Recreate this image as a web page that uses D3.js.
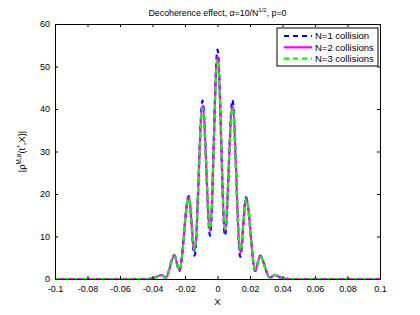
<!DOCTYPE html>
<html>
<head>
<meta charset="utf-8">
<script src="https://cdn.jsdelivr.net/npm/d3@7"></script>
<style>
  body { margin: 0; background: #fff; }
  svg { display: block; font-family: "Liberation Sans", Arial, sans-serif; }
</style>
</head>
<body>
<div id="chart"></div>
<script>
const width = 420;
const height = 315;

// x positions of the sampled extrema (shared by all series)
const xs = [-0.1, -0.044, -0.0395, -0.0345, -0.0318, -0.0266, -0.0235, -0.0177, -0.0141, -0.0092, -0.0046, 0,
  0.0046, 0.0092, 0.0140, 0.0176, 0.0232, 0.0262, 0.0322, 0.0354, 0.0395, 0.044, 0.1];

const n1 = [0, 0, 0.2, 0.9, 0.3, 5.6, 1.9, 19.5, 5.5, 42.0, 10.2, 54.0, 10.2, 42.1, 5.2, 19.2, 1.9, 5.5, 0.3, 1.0, 0.2, 0, 0];
const n2 = [0, 0, 0.2, 0.9, 0.3, 5.5, 2.1, 19.2, 6.5, 40.8, 11.3, 52.6, 11.3, 40.8, 6.3, 19.0, 2.1, 5.4, 0.3, 0.9, 0.2, 0, 0];
const n3 = [0, 0, 0.2, 0.9, 0.3, 5.4, 2.2, 19.0, 6.9, 40.2, 11.8, 51.6, 11.8, 40.2, 6.7, 18.8, 2.2, 5.3, 0.3, 0.9, 0.2, 0, 0];

const names = ['N=1 collision', 'N=2 collisions', 'N=3 collisions'];
const xTicks = [-0.1, -0.08, -0.06, -0.04, -0.02, 0, 0.02, 0.04, 0.06, 0.08, 0.1];
const yTicks = [0, 10, 20, 30, 40, 50, 60];

const series = [
  {name: names[0], values: n1, color: '#0000ff', dash: '5,4'},
  {name: names[1], values: n2, color: '#ff00ff', dash: null},
  {name: names[2], values: n3, color: '#00ff00', dash: '5,4'}
];

const m = {left: 55, right: 40, top: 24, bottom: 36};
const w = width - m.left - m.right;
const h = height - m.top - m.bottom;

const svg = d3.select('#chart').append('svg')
  .attr('width', width)
  .attr('height', height);

const g = svg.append('g').attr('transform', `translate(${m.left},${m.top})`);

const x = d3.scaleLinear().domain([-0.1, 0.1]).range([0, w]);
const y = d3.scaleLinear().domain([0, 60]).range([h, 0]);

const fmt = d => d === 0 ? '0' : String(d);

// curves
const line = d3.line()
  .curve(d3.curveMonotoneX)
  .x((d, i) => x(xs[i]))
  .y(d => y(d));

g.selectAll('.curve')
  .data(series)
  .enter()
  .append('path')
    .attr('class', 'curve')
    .attr('d', s => line(s.values))
    .attr('fill', 'none')
    .attr('stroke', s => s.color)
    .attr('stroke-width', 2.2)
    .attr('stroke-dasharray', s => s.dash);

// axes, ticks inside on all four sides
const tl = 3;
const xb = g.append('g').attr('transform', `translate(0,${h})`)
  .call(d3.axisBottom(x).tickValues(xTicks).tickFormat(fmt).tickSizeInner(-tl).tickSizeOuter(0).tickPadding(7));
const xt = g.append('g')
  .call(d3.axisTop(x).tickValues(xTicks).tickFormat('').tickSizeInner(-tl).tickSizeOuter(0));
const yl = g.append('g')
  .call(d3.axisLeft(y).tickValues(yTicks).tickFormat(fmt).tickSizeInner(-tl).tickSizeOuter(0).tickPadding(5));
const yr = g.append('g').attr('transform', `translate(${w},0)`)
  .call(d3.axisRight(y).tickValues(yTicks).tickFormat('').tickSizeInner(-tl).tickSizeOuter(0));

[xb, xt, yl, yr].forEach(a => {
  a.selectAll('path').attr('stroke', '#000').attr('stroke-width', 1);
  a.selectAll('line').attr('stroke', '#000');
  a.selectAll('text').attr('fill', '#000').style('font-size', '9px');
});

// title
const title = svg.append('text')
  .attr('x', m.left + w / 2)
  .attr('y', 16)
  .attr('text-anchor', 'middle')
  .style('font-size', '8.8px');
title.append('tspan').text('Decoherence effect, \u03b1=10/N');
title.append('tspan').attr('dy', -4).style('font-size', '6px').text('1/2');
title.append('tspan').attr('dy', 4).text(', p=0');

// x label
svg.append('text')
  .attr('x', m.left + w / 2)
  .attr('y', 305)
  .attr('text-anchor', 'middle')
  .style('font-size', '9.5px')
  .text('X');

// y label
const ylab = svg.append('text')
  .attr('transform', `translate(25,${m.top + h / 2}) rotate(-90)`)
  .attr('text-anchor', 'middle')
  .style('font-size', '9.5px');
ylab.append('tspan').text('|\u03c1');
ylab.append('tspan').attr('dy', -4).style('font-size', '6.5px').text('M,a');
ylab.append('tspan').attr('dy', 4).text('(t');
ylab.append('tspan').attr('dy', -3).style('font-size', '6.5px').text('*');
ylab.append('tspan').attr('dy', 3).text(',X)|');

// legend
const lg = svg.append('g').attr('transform', 'translate(277,28)');
lg.append('rect')
  .attr('width', 101).attr('height', 38)
  .attr('fill', '#fff').attr('stroke', '#000').attr('stroke-width', 1);
const item = lg.selectAll('.item')
  .data(series)
  .enter()
  .append('g')
    .attr('class', 'item')
    .attr('transform', (d, i) => `translate(0,${8 + i * 11.3})`);
item.append('line')
  .attr('x1', 7).attr('x2', 35)
  .attr('stroke', d => d.color)
  .attr('stroke-width', 2.2)
  .attr('stroke-dasharray', d => d.dash);
item.append('text')
  .attr('x', 38).attr('dy', '0.35em')
  .style('font-size', '9.5px')
  .text(d => d.name);
</script>
</body>
</html>
